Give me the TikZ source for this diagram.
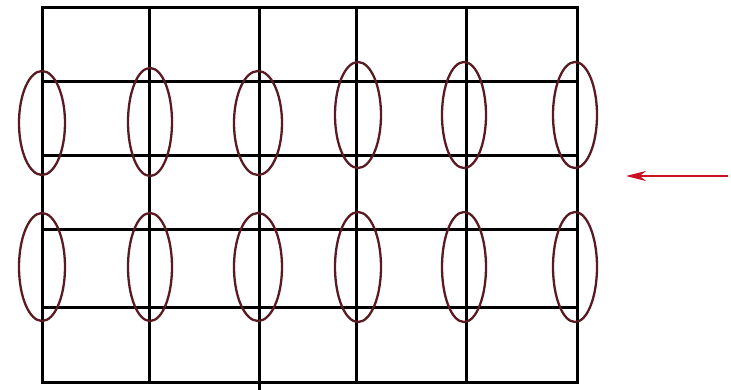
\documentclass[tikz,border=0pt]{standalone}
\usetikzlibrary{arrows.meta}
\definecolor{maroon}{HTML}{5A1A22}
\definecolor{arrred}{HTML}{CC1020}
\begin{document}
\begin{tikzpicture}[x=1pt,y=-1pt,
  gridline/.style={line width=3pt,black},
  ring/.style={draw=maroon,line width=2.3pt}]
\useasboundingbox (0,0) rectangle (731,390);
% outer frame
\draw[gridline] (42,8) rectangle (577,382);
% horizontal lines
\foreach \y in {82,156,230,307} \draw[gridline] (42,\y) -- (577,\y);
% vertical lines
\foreach \x in {149,356,466} \draw[gridline] (\x,8) -- (\x,382);
\draw[gridline] (259,8) -- (259,390);
% ellipses row 1
\draw[ring] (42,123) ellipse [x radius=23, y radius=52];
\draw[ring] (150,122) ellipse [x radius=22, y radius=54];
\draw[ring] (258,123) ellipse [x radius=24, y radius=52];
\draw[ring] (358,115) ellipse [x radius=23, y radius=53];
\draw[ring] (464,115) ellipse [x radius=22, y radius=53];
\draw[ring] (575,115) ellipse [x radius=22, y radius=53];
% ellipses row 2
\draw[ring] (42,267) ellipse [x radius=23, y radius=54];
\draw[ring] (150,267) ellipse [x radius=22, y radius=54];
\draw[ring] (258,267) ellipse [x radius=24, y radius=54];
\draw[ring] (358,267) ellipse [x radius=23, y radius=55];
\draw[ring] (464,267) ellipse [x radius=22, y radius=55];
\draw[ring] (575,267) ellipse [x radius=22, y radius=55];
% arrow
\coordinate (as) at (728,176);
\coordinate (ae) at (626,176);
\draw[arrred,line width=2.5pt,-{Stealth[length=20pt,width=10pt]}] (as) -- (ae);
\end{tikzpicture}
\end{document}
